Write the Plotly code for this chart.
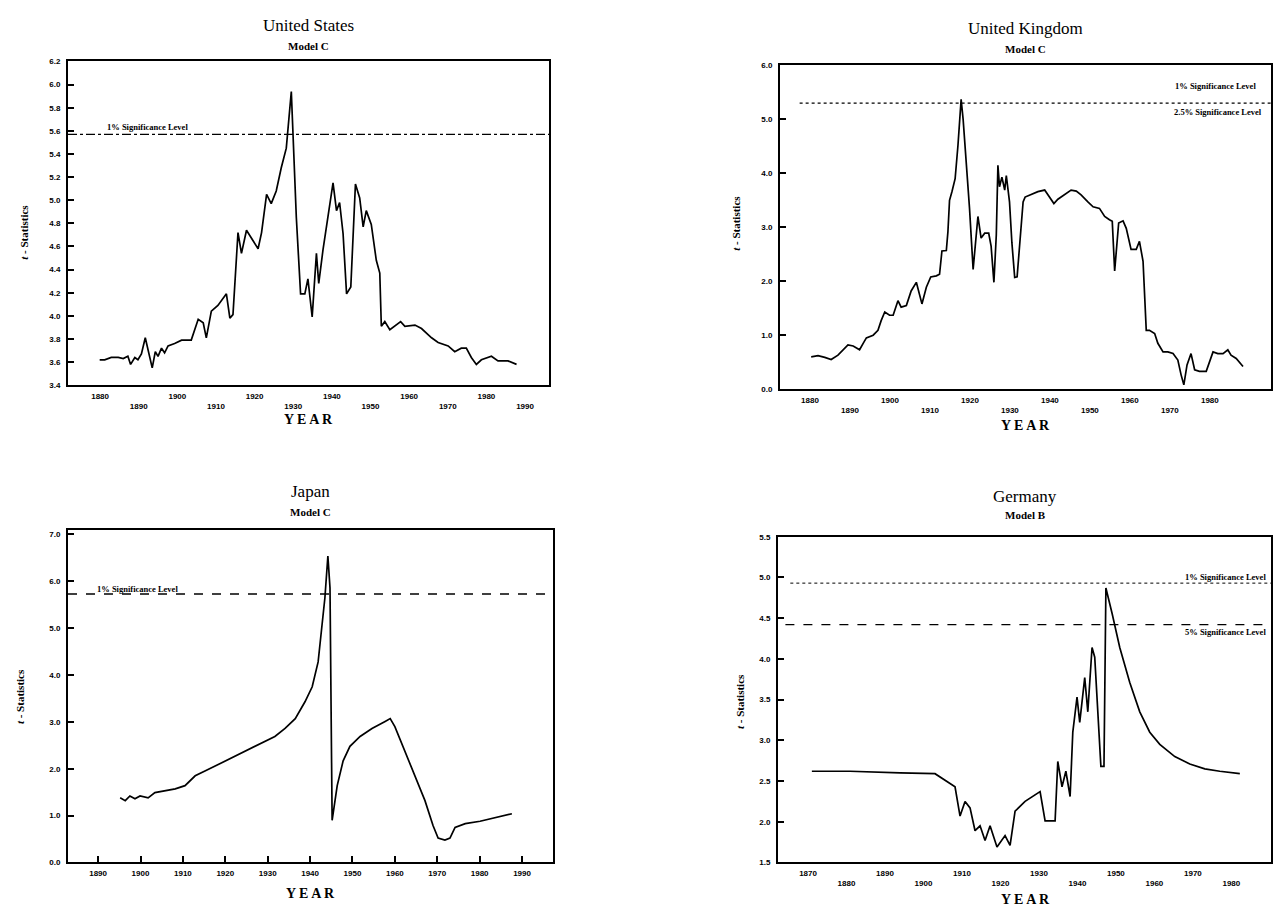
import plotly.graph_objects as go

W, H = 1275, 916

# ---------------- data ----------------
us_years = [1879.9, 1881.2, 1882.9, 1884.7, 1886.0, 1887.2, 1887.9, 1889.0, 1889.8, 1890.7, 1891.7, 1892.4,
            1893.5, 1894.3, 1895.0, 1895.9, 1896.7, 1897.6, 1899.3, 1901.1, 1903.6, 1905.4, 1906.7, 1907.5,
            1908.8, 1910.5, 1912.7, 1913.6, 1914.4, 1915.7, 1916.6, 1917.9, 1919.6, 1920.9, 1921.8, 1923.1,
            1924.3, 1925.6, 1926.9, 1928.2, 1929.5, 1930.0, 1930.8, 1931.9, 1933.0, 1933.8, 1934.9, 1936.0,
            1936.6, 1937.7, 1939.0, 1940.3, 1941.2, 1942.0, 1942.9, 1943.8, 1944.9, 1946.1, 1947.2, 1948.1,
            1948.9, 1950.2, 1951.5, 1952.4, 1952.8, 1953.7, 1955.0, 1956.3, 1957.8, 1958.9, 1961.5, 1963.2,
            1965.8, 1967.5, 1970.1, 1971.8, 1973.5, 1974.8, 1976.1, 1977.4, 1978.7, 1981.3, 1983.0, 1985.6,
            1987.8]
us_tstat = [3.62, 3.62, 3.64, 3.64, 3.63, 3.65, 3.58, 3.64, 3.62, 3.67, 3.81, 3.71,
            3.55, 3.69, 3.65, 3.72, 3.68, 3.74, 3.76, 3.79, 3.79, 3.97, 3.94, 3.81,
            4.04, 4.09, 4.19, 3.98, 4.01, 4.72, 4.54, 4.74, 4.65, 4.58, 4.72, 5.05,
            4.97, 5.08, 5.28, 5.45, 5.94, 5.51, 4.85, 4.19, 4.19, 4.32, 3.99, 4.54,
            4.28, 4.57, 4.88, 5.15, 4.91, 4.98, 4.71, 4.19, 4.25, 5.14, 5.02, 4.77,
            4.91, 4.79, 4.48, 4.37, 3.91, 3.95, 3.88, 3.91, 3.95, 3.91, 3.92, 3.89,
            3.81, 3.77, 3.74, 3.69, 3.72, 3.72, 3.64, 3.58, 3.62, 3.65, 3.61, 3.61,
            3.58]

uk_years = [1880.3, 1882.0, 1883.7, 1885.3, 1887.0, 1888.3, 1889.5, 1890.8, 1892.4, 1893.3, 1894.1, 1895.8,
            1897.0, 1897.8, 1898.7, 1899.9, 1900.8, 1902.0, 1902.8, 1904.1, 1905.3, 1906.6, 1907.4, 1908.0,
            1909.1, 1910.2, 1911.6, 1912.4, 1913.0, 1913.7, 1914.1, 1914.5, 1914.9, 1915.5, 1916.3, 1917.0,
            1917.4, 1917.8, 1918.3, 1919.1, 1919.9, 1920.8, 1921.3, 1922.0, 1922.8, 1923.7, 1924.7, 1925.3,
            1926.0, 1926.6, 1927.0, 1927.4, 1928.0, 1928.7, 1929.1, 1929.5, 1929.9, 1930.5, 1931.2, 1931.8,
            1932.4, 1932.8, 1933.3, 1933.8, 1935.3, 1937.0, 1938.7, 1939.3, 1940.3, 1941.0, 1942.0, 1943.7,
            1945.3, 1946.6, 1947.8, 1949.5, 1950.8, 1952.4, 1953.7, 1954.9, 1955.6, 1956.2, 1956.6, 1957.2,
            1958.3, 1959.1, 1960.3, 1961.6, 1962.4, 1963.3, 1964.1, 1964.9, 1966.2, 1967.0, 1968.3, 1969.5,
            1970.8, 1972.0, 1972.8, 1973.5, 1974.3, 1975.3, 1976.2, 1977.4, 1979.1, 1979.9, 1980.8, 1982.0,
            1983.3, 1984.5, 1985.3, 1986.6, 1988.3]
uk_tstat = [0.60, 0.62, 0.59, 0.55, 0.63, 0.73, 0.82, 0.80, 0.73, 0.85, 0.95, 1.00,
            1.09, 1.27, 1.43, 1.37, 1.37, 1.64, 1.52, 1.55, 1.82, 1.98, 1.76, 1.58,
            1.89, 2.08, 2.10, 2.13, 2.56, 2.56, 2.57, 2.92, 3.50, 3.66, 3.90, 4.51,
            4.97, 5.37, 5.00, 4.21, 3.35, 2.22, 2.62, 3.20, 2.80, 2.89, 2.89, 2.65,
            1.98, 2.86, 4.15, 3.75, 3.93, 3.69, 3.96, 3.72, 3.47, 2.71, 2.07, 2.08,
            2.62, 3.05, 3.47, 3.56, 3.60, 3.66, 3.69, 3.63, 3.53, 3.44, 3.52, 3.61,
            3.69, 3.67, 3.60, 3.47, 3.38, 3.35, 3.20, 3.14, 3.11, 2.19, 2.62, 3.08,
            3.12, 2.98, 2.59, 2.59, 2.74, 2.37, 1.09, 1.09, 1.03, 0.85, 0.69, 0.69,
            0.66, 0.54, 0.27, 0.08, 0.45, 0.66, 0.36, 0.33, 0.33, 0.51, 0.69, 0.66,
            0.66, 0.73, 0.63, 0.57, 0.42]

jp_years = [1895.2, 1896.4, 1897.5, 1898.7, 1899.9, 1901.8, 1903.4, 1905.8, 1908.2, 1910.5, 1912.9, 1915.2,
            1917.6, 1920.0, 1922.3, 1924.7, 1927.0, 1929.4, 1931.7, 1934.1, 1936.5, 1938.8, 1940.5, 1941.9,
            1942.8, 1943.5, 1944.2, 1944.7, 1945.2, 1946.4, 1947.8, 1949.4, 1951.8, 1954.6, 1957.7, 1958.9,
            1960.0, 1962.4, 1964.8, 1967.1, 1969.0, 1970.2, 1971.8, 1973.0, 1974.2, 1976.6, 1980.1, 1983.6,
            1987.6]
jp_tstat = [1.38, 1.32, 1.42, 1.36, 1.42, 1.38, 1.49, 1.53, 1.57, 1.64, 1.85, 1.95,
            2.06, 2.16, 2.27, 2.38, 2.48, 2.59, 2.69, 2.86, 3.07, 3.43, 3.75, 4.28,
            5.01, 5.65, 6.54, 5.86, 0.90, 1.64, 2.17, 2.48, 2.69, 2.86, 3.01, 3.07,
            2.90, 2.38, 1.85, 1.32, 0.79, 0.52, 0.48, 0.52, 0.75, 0.83, 0.88, 0.96,
            1.04]

de_years = [1871.0, 1880.9, 1893.9, 1903.0, 1908.2, 1909.5, 1910.8, 1912.1, 1913.4, 1914.7, 1916.0, 1917.3,
            1919.1, 1921.2, 1922.5, 1923.8, 1926.4, 1930.3, 1931.6, 1934.2, 1934.9, 1936.0, 1937.0, 1938.1,
            1938.8, 1939.9, 1940.6, 1941.9, 1942.7, 1943.8, 1944.5, 1945.3, 1946.1, 1946.9, 1947.4, 1949.0,
            1951.0, 1953.6, 1956.2, 1958.8, 1961.4, 1965.3, 1969.2, 1973.1, 1977.0, 1982.2]
de_tstat = [2.62, 2.62, 2.60, 2.59, 2.43, 2.07, 2.25, 2.17, 1.89, 1.95, 1.77, 1.95,
            1.69, 1.83, 1.71, 2.13, 2.25, 2.37, 2.01, 2.01, 2.74, 2.43, 2.62, 2.31,
            3.10, 3.53, 3.22, 3.77, 3.35, 4.14, 4.02, 3.29, 2.68, 2.68, 4.87, 4.56,
            4.14, 3.71, 3.35, 3.10, 2.95, 2.80, 2.71, 2.65, 2.62, 2.59]

# critical values
us_cv1 = 5.57
uk_cv25 = 5.30
jp_cv1 = 5.73
de_cv1, de_cv5 = 4.93, 4.42

us_yticks = [3.4, 3.6, 3.8, 4.0, 4.2, 4.4, 4.6, 4.8, 5.0, 5.2, 5.4, 5.6, 5.8, 6.0, 6.2]
uk_yticks = [0, 1, 2, 3, 4, 5, 6]
jp_yticks = [0, 1, 2, 3, 4, 5, 6, 7]
de_yticks = [1.5, 2.0, 2.5, 3.0, 3.5, 4.0, 4.5, 5.0, 5.5]
us_xlabels = [1880, 1890, 1900, 1910, 1920, 1930, 1940, 1950, 1960, 1970, 1980, 1990]
uk_xlabels = [1880, 1890, 1900, 1910, 1920, 1930, 1940, 1950, 1960, 1970, 1980]
jp_xlabels = [1890, 1900, 1910, 1920, 1930, 1940, 1950, 1960, 1970, 1980, 1990]
de_xlabels = [1870, 1880, 1890, 1900, 1910, 1920, 1930, 1940, 1950, 1960, 1970, 1980, 1990]

# ---------------- helpers ----------------
def fx(px):
    return px / W

def fy(py):
    return 1 - py / H

fig = go.Figure()

TICKFONT = dict(family="Liberation Sans", size=8, color="black", weight="bold")
SERIF = "Liberation Serif"

panels = [
    dict(xs=us_years, ys=us_tstat, dx=(68, 549), dy=(58, 385), xr=[1871.7, 1996.2], yr=[3.4, 6.2],
         yt=us_yticks, xl=us_xlabels, stag=True),
    dict(xs=uk_years, ys=uk_tstat, dx=(780, 1271), dy=(62, 389), xr=[1872.5, 1995.3], yr=[0, 6],
         yt=uk_yticks, xl=uk_xlabels, stag=True),
    dict(xs=jp_years, ys=jp_tstat, dx=(68, 553), dy=(531, 867), xr=[1882.9, 1997.3], yr=[0, 7.1],
         yt=jp_yticks, xl=jp_xlabels, stag=False),
    dict(xs=de_years, ys=de_tstat, dx=(778, 1271), dy=(538, 867), xr=[1862.2, 1990.3], yr=[1.5, 5.5],
         yt=de_yticks, xl=de_xlabels, stag=True),
]

layout = {}
for i, p in enumerate(panels, start=1):
    xa = "xaxis" if i == 1 else f"xaxis{i}"
    ya = "yaxis" if i == 1 else f"yaxis{i}"
    xref = "x" if i == 1 else f"x{i}"
    yref = "y" if i == 1 else f"y{i}"
    fig.add_trace(go.Scatter(x=p["xs"], y=p["ys"], mode="lines",
                             line=dict(color="black", width=1.7),
                             xaxis=xref, yaxis=yref, showlegend=False, hoverinfo="skip"))
    xl = p["xl"]
    if p["stag"]:
        ticktext = [str(v) if (j % 2 == 0) else "<br>" + str(v) for j, v in enumerate(xl)]
        ticks = ""
    else:
        ticktext = [str(v) for v in xl]
        ticks = "inside"
    layout[xa] = dict(domain=[fx(p["dx"][0]), fx(p["dx"][1])], range=p["xr"], anchor=yref,
                      tickvals=xl, ticktext=ticktext, ticks=ticks, ticklen=6, tickwidth=2,
                      tickcolor="black", showline=True, linecolor="black", linewidth=2,
                      mirror=True, showgrid=False, zeroline=False, tickfont=TICKFONT,
                      ticklabelstandoff=2)
    layout[ya] = dict(domain=[fy(p["dy"][1]), fy(p["dy"][0])], range=p["yr"], anchor=xref,
                      tickvals=p["yt"], ticktext=[f"{v:.1f}" for v in p["yt"]],
                      ticks="inside", ticklen=6, tickwidth=2, tickcolor="black",
                      showline=True, linecolor="black", linewidth=2, mirror=True,
                      showgrid=False, zeroline=False, tickfont=TICKFONT, ticklabelstandoff=4)

# overlay axes carrying the long outside tick marks of the staggered axes
ov = 5
for i, p in enumerate(panels, start=1):
    if not p["stag"]:
        continue
    xref = "x" if i == 1 else f"x{i}"
    yref = "y" if i == 1 else f"y{i}"
    xl = p["xl"]
    layout[f"xaxis{ov}"] = dict(domain=[fx(p["dx"][0]), fx(p["dx"][1])], range=p["xr"],
                                anchor=yref, overlaying=xref, side="bottom",
                                tickvals=xl[1::2], showticklabels=False, ticks="outside",
                                ticklen=13, tickwidth=2, tickcolor="black", showline=False,
                                showgrid=False, zeroline=False)
    ov += 1

fig.update_layout(**layout)

def hline(val, xref, yref, dash, x0=0, x1=1, width=1.3):
    fig.add_shape(type="line", xref=f"{xref} domain", yref=yref, x0=x0, x1=x1, y0=val, y1=val,
                  line=dict(color="black", width=width, dash=dash))

hline(us_cv1, "x", "y", "dashdot")
hline(uk_cv25, "x2", "y2", "dot", x0=0.04)
hline(jp_cv1, "x3", "y3", "dash")
hline(de_cv1, "x4", "y4", "dot", x0=0.025, width=1.0)
hline(de_cv5, "x4", "y4", "dash", x0=0.015)

def ann(text, px, py, size, bold=False, anchor="center", yanchor="middle", family=SERIF,
        angle=0):
    fig.add_annotation(text=text, x=fx(px), y=fy(py), xref="paper", yref="paper",
                       showarrow=False, xanchor=anchor, yanchor=yanchor, textangle=angle,
                       font=dict(family=family, size=size, color="black",
                                 weight="bold" if bold else "normal"))

SIGF = 8.5
ann("1% Significance Level", 105, 124, SIGF, bold=True, anchor="left")
ann("1% Significance Level", 1258, 83, SIGF, bold=True, anchor="right")
ann("2.5% Significance Level", 1264, 109, SIGF, bold=True, anchor="right")
ann("1% Significance Level", 95, 591, SIGF, bold=True, anchor="left")
ann("1% Significance Level", 1268, 579, SIGF, bold=True, anchor="right")
ann("5% Significance Level", 1268, 634, SIGF, bold=True, anchor="right")

ann("United States", 308, 22, 17)
ann("Model C", 308, 42, 11, bold=True)
ann("United Kingdom", 1025, 25, 17)
ann("Model C", 1025, 45, 11, bold=True)
ann("Japan", 310, 492, 17)
ann("Model C", 310, 513, 11, bold=True)
ann("Germany", 1025, 497, 17)
ann("Model B", 1025, 516, 11, bold=True)

for (px, py) in [(308, 420), (1025, 426), (310, 898), (1025, 904)]:
    ann("Y E A R", px, py, 14, bold=True)
for (px, py) in [(24, 230), (736, 222), (20, 700), (740, 705)]:
    ann("<i>t</i> - Statistics", px, py, 11, bold=True, angle=-90, family="Liberation Sans Narrow")

fig.update_layout(width=W, height=H, margin=dict(l=0, r=0, t=0, b=0),
                  paper_bgcolor="white", plot_bgcolor="white", showlegend=False)

fig.write_html("out.html", config={"displayModeBar": False},
               post_script="document.body.style.margin='0';document.body.style.overflow='hidden';")
